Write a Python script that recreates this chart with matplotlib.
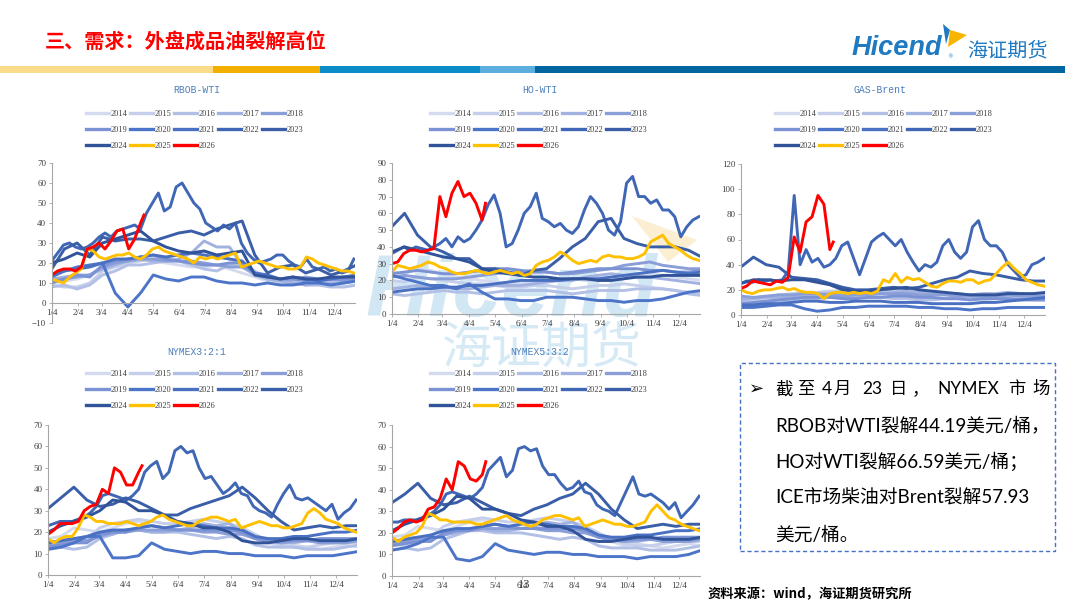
import numpy as np
import matplotlib.pyplot as plt
from matplotlib.lines import Line2D
from matplotlib.patches import Rectangle, Polygon

W, H = 1080, 607

years = list(range(2014, 2027))
year_colors = ['#D5DBEE', '#C5CEEA', '#B3C0E6', '#A2B2E0', '#8A9ED8', '#7B93D4',
               '#4C74C8', '#4A70C2', '#4067B5', '#3A5EA8', '#30539A', '#FFC000', '#FF0000']
month_days = [0, 31, 59, 90, 120, 151, 181, 212, 243, 273, 304, 334]
month_labels = ['1/4', '2/4', '3/4', '4/4', '5/4', '6/4', '7/4', '8/4', '9/4', '10/4', '11/4', '12/4']

# ---- RBOB-WTI ----
rbob_hist = {
    2014: [10, 11, 12, 14, 18, 19, 21, 22, 21, 20, 19, 18, 18, 19, 17, 15, 13, 11, 10, 11, 9, 9, 9, 8, 9],
    2015: [9, 8, 8, 10, 16, 18, 20, 21, 22, 23, 24, 25, 26, 24, 22, 20, 16, 13, 11, 10, 9, 10, 11, 12, 12],
    2016: [8, 9, 7, 9, 14, 16, 19, 19, 20, 21, 21, 19, 17, 16, 19, 18, 14, 12, 11, 11, 9, 9, 8, 8, 9],
    2017: [12, 13, 14, 14, 17, 19, 21, 22, 21, 21, 22, 25, 31, 28, 28, 19, 14, 12, 11, 10, 9, 10, 10, 10, 11],
    2018: [11, 12, 13, 14, 18, 20, 21, 22, 22, 21, 21, 21, 20, 19, 18, 18, 15, 13, 12, 12, 13, 12, 12, 11, 12],
    2019: [10, 12, 14, 13, 19, 21, 22, 23, 24, 22, 21, 20, 19, 19, 20, 20, 15, 13, 12, 12, 11, 12, 12, 12, 12],
    2020: [13, 16, 18, 19, 20, 5, -2, 5, 14, 12, 11, 13, 13, 11, 10, 10, 9, 10, 9, 9, 10, 10, 9, 10, 11],
    2021: [14, 16, 17, 18, 20, 22, 22, 23, 24, 23, 24, 25, 24, 23, 22, 21, 15, 14, 12, 13, 12, 11, 12, 13, 14],
    2023: [17, 27, 30, 24, 33, 31, 32, 32, 31, 33, 35, 36, 34, 37, 39, 41, 24, 15, 18, 19, 15, 17, 14, 16, 19],
    2024: [20, 22, 25, 23, 30, 32, 34, 36, 31, 28, 26, 25, 26, 24, 25, 26, 14, 13, 12, 13, 12, 12, 13, 13, 13],
}
rbob_2022 = [21, 25, 29, 30, 28, 27, 28, 30, 33, 35, 33, 36, 37, 38, 39, 37, 45, 50, 55, 46, 48, 58, 60, 55, 50, 47,
             40, 38, 36, 39, 37, 40, 30, 25, 22, 20, 21, 22, 24, 24, 21, 19, 18, 22, 18, 17, 18, 16, 17, 15, 16, 22]
rbob_2025 = [12, 11, 10, 13, 15, 17, 27, 26, 23, 22, 23, 24, 24, 25, 23, 22, 24, 27, 28, 26, 25, 24, 23, 22, 20, 23,
             22, 23, 22, 23, 24, 25, 18, 19, 20, 21, 20, 19, 18, 18, 17, 17, 18, 23, 22, 20, 19, 18, 17, 16, 16, 15]
rbob_2026 = [14, 16, 17, 17, 16, 18, 27, 28, 30, 27, 31, 36, 37, 27, 32, 40, 44]

# ---- HO-WTI ----
ho_hist = {
    2014: [25, 24, 27, 26, 24, 22, 21, 20, 19, 18, 18, 19, 19, 20, 21, 20, 20, 21, 22, 23, 24, 23, 22, 21, 20],
    2015: [20, 19, 22, 21, 20, 19, 18, 18, 17, 16, 16, 17, 17, 16, 15, 16, 17, 17, 18, 17, 16, 15, 14, 13, 12],
    2016: [12, 11, 12, 13, 14, 13, 13, 12, 13, 14, 14, 14, 14, 13, 12, 13, 14, 14, 14, 15, 15, 15, 14, 12, 11],
    2017: [15, 16, 17, 16, 16, 15, 15, 16, 17, 17, 17, 18, 19, 20, 20, 22, 23, 24, 23, 22, 22, 21, 20, 19, 18],
    2018: [22, 23, 22, 21, 21, 21, 22, 23, 24, 25, 25, 26, 25, 24, 24, 25, 26, 27, 29, 30, 31, 29, 28, 27, 27],
    2019: [24, 25, 26, 25, 24, 24, 25, 26, 27, 27, 26, 25, 25, 24, 25, 26, 27, 27, 27, 27, 26, 26, 25, 25, 26],
    2020: [23, 21, 19, 17, 17, 15, 18, 13, 9, 9, 8, 8, 10, 10, 10, 9, 8, 8, 7, 8, 8, 9, 11, 13, 14],
    2021: [13, 14, 15, 15, 16, 16, 17, 17, 18, 19, 20, 20, 20, 20, 21, 21, 21, 22, 23, 24, 25, 26, 25, 24, 25],
    2023: [52, 60, 47, 40, 37, 33, 33, 27, 27, 25, 23, 26, 27, 33, 40, 45, 55, 57, 45, 42, 40, 40, 40, 38, 34],
    2024: [37, 40, 38, 36, 34, 33, 31, 27, 25, 24, 23, 22, 22, 21, 21, 21, 20, 20, 21, 22, 22, 23, 23, 23, 23],
}
ho_2022 = [36, 38, 40, 38, 40, 39, 38, 40, 42, 45, 40, 46, 43, 45, 50, 56, 65, 71, 60, 40, 42, 50, 60, 64, 72, 57,
           55, 52, 54, 50, 48, 52, 62, 70, 66, 60, 50, 47, 55, 78, 82, 70, 70, 66, 68, 62, 62, 58, 46, 52, 56, 58]
ho_2025 = [25, 29, 28, 27, 28, 29, 31, 30, 28, 27, 25, 24, 24, 25, 26, 25, 24, 25, 26, 25, 24, 25, 23, 24, 29, 31,
           32, 34, 37, 35, 32, 30, 31, 32, 31, 34, 35, 34, 34, 33, 33, 34, 36, 43, 45, 47, 42, 40, 38, 35, 33, 32]
ho_2026 = [30, 31, 36, 38, 38, 37, 38, 39, 70, 58, 72, 79, 70, 72, 66, 56, 66]

# ---- GAS-Brent ----
gas_hist = {
    2014: [12, 11, 13, 14, 15, 16, 16, 15, 14, 15, 15, 16, 16, 15, 15, 14, 13, 13, 12, 12, 13, 13, 12, 12, 12],
    2015: [14, 13, 14, 16, 17, 18, 18, 19, 19, 18, 18, 19, 20, 19, 18, 17, 16, 16, 15, 15, 16, 16, 15, 14, 14],
    2016: [10, 9, 10, 11, 12, 13, 13, 14, 14, 14, 14, 14, 13, 13, 12, 12, 13, 13, 13, 14, 14, 14, 13, 12, 12],
    2017: [12, 13, 14, 14, 15, 16, 16, 17, 16, 17, 17, 17, 18, 19, 18, 18, 17, 17, 16, 17, 17, 18, 17, 16, 16],
    2018: [15, 14, 15, 16, 16, 17, 17, 16, 15, 16, 16, 17, 17, 17, 16, 16, 16, 15, 15, 15, 15, 16, 15, 15, 15],
    2019: [9, 10, 11, 12, 13, 14, 14, 14, 13, 13, 14, 14, 15, 15, 14, 14, 13, 13, 12, 13, 13, 13, 12, 12, 12],
    2020: [6, 6, 7, 8, 8, 5, 3, 4, 6, 6, 7, 7, 7, 7, 6, 6, 5, 5, 4, 5, 5, 6, 6, 6, 6],
    2021: [8, 8, 9, 9, 10, 11, 11, 10, 10, 11, 11, 11, 10, 10, 10, 9, 9, 9, 9, 10, 10, 11, 12, 13, 14],
    2023: [38, 46, 40, 38, 30, 29, 28, 25, 22, 20, 20, 21, 22, 21, 22, 25, 28, 30, 35, 33, 32, 30, 28, 27, 27],
    2024: [25, 28, 28, 27, 28, 28, 26, 24, 20, 19, 19, 20, 21, 22, 20, 19, 18, 17, 16, 16, 16, 17, 17, 17, 18],
}
gas_2022 = [25, 27, 26, 28, 27, 28, 27, 28, 35, 95, 40, 52, 42, 45, 38, 40, 45, 55, 58, 45, 32, 45, 58, 62, 65, 60,
            55, 60, 50, 42, 35, 40, 38, 42, 55, 60, 50, 45, 50, 70, 75, 60, 55, 55, 50, 40, 35, 30, 32, 40, 42, 45]
gas_2025 = [20, 18, 17, 19, 20, 20, 21, 22, 20, 21, 19, 18, 18, 17, 13, 17, 18, 18, 17, 18, 17, 18, 17, 19, 28, 26,
            33, 26, 30, 28, 29, 26, 23, 22, 25, 27, 27, 26, 28, 28, 25, 27, 28, 33, 38, 42, 37, 33, 28, 26, 24, 23]
gas_2026 = [21, 23, 27, 26, 25, 24, 27, 26, 30, 62, 50, 74, 78, 95, 88, 52, 58]

# ---- NYMEX 3:2:1 ----
n321_hist = {
    2014: [17, 18, 22, 21, 20, 22, 24, 25, 23, 22, 21, 21, 22, 23, 21, 19, 17, 15, 13, 14, 13, 12, 13, 14, 13],
    2015: [14, 13, 15, 17, 22, 24, 25, 26, 25, 24, 24, 25, 26, 25, 24, 22, 19, 16, 14, 13, 13, 14, 15, 15, 15],
    2016: [12, 13, 12, 13, 17, 19, 21, 21, 20, 20, 20, 19, 18, 17, 18, 17, 14, 13, 13, 13, 12, 12, 12, 13, 14],
    2017: [15, 16, 17, 16, 18, 19, 21, 21, 20, 20, 21, 22, 24, 23, 24, 20, 17, 16, 15, 15, 16, 16, 15, 16, 17],
    2018: [14, 15, 16, 16, 18, 20, 20, 21, 21, 21, 21, 21, 20, 20, 19, 19, 17, 16, 15, 16, 16, 15, 15, 15, 16],
    2019: [13, 14, 15, 15, 19, 20, 20, 22, 23, 22, 21, 21, 21, 21, 21, 20, 17, 16, 16, 16, 16, 17, 17, 17, 17],
    2020: [12, 13, 15, 18, 18, 8, 8, 9, 15, 12, 11, 10, 11, 11, 10, 10, 9, 9, 9, 8, 9, 9, 9, 10, 11],
    2021: [15, 16, 17, 18, 20, 21, 21, 22, 23, 22, 23, 24, 23, 22, 22, 21, 18, 17, 17, 18, 18, 19, 20, 20, 21],
    2023: [31, 36, 41, 35, 32, 33, 36, 34, 31, 28, 28, 31, 33, 35, 37, 41, 36, 30, 25, 21, 22, 23, 22, 23, 23],
    2024: [20, 23, 25, 27, 30, 35, 34, 30, 30, 28, 25, 24, 22, 22, 20, 16, 15, 15, 16, 17, 17, 16, 16, 16, 17],
}
n321_2022 = [23, 24, 25, 25, 25, 26, 27, 29, 32, 37, 38, 37, 36, 35, 37, 40, 48, 51, 53, 45, 48, 58, 60, 57, 58, 50,
             45, 46, 42, 38, 40, 43, 38, 37, 32, 30, 29, 27, 33, 38, 42, 36, 35, 36, 34, 32, 30, 33, 26, 29, 31, 35]
n321_2025 = [17, 15, 17, 18, 18, 22, 28, 27, 25, 25, 24, 24, 24, 25, 24, 23, 24, 25, 27, 28, 26, 25, 24, 23, 23, 25,
             26, 27, 27, 26, 25, 26, 22, 23, 24, 25, 24, 23, 23, 22, 22, 23, 24, 29, 31, 29, 26, 25, 24, 22, 21, 20]
n321_2026 = [19, 21, 24, 24, 24, 25, 30, 32, 33, 40, 38, 50, 48, 42, 42, 48, 51]

# ---- NYMEX 5:3:2 ----
n532_hist = {
    2014: [18, 19, 23, 22, 21, 23, 25, 26, 24, 23, 22, 22, 23, 24, 22, 20, 18, 16, 14, 15, 14, 13, 14, 15, 14],
    2015: [15, 14, 16, 18, 23, 25, 26, 27, 26, 25, 25, 26, 27, 26, 25, 23, 20, 17, 15, 14, 14, 15, 16, 16, 16],
    2016: [12, 13, 12, 13, 17, 19, 21, 21, 20, 20, 20, 19, 18, 17, 18, 17, 14, 13, 13, 13, 12, 12, 12, 13, 14],
    2017: [16, 17, 18, 17, 19, 20, 22, 22, 21, 21, 22, 23, 25, 24, 25, 21, 18, 17, 16, 16, 17, 17, 16, 17, 18],
    2018: [15, 16, 17, 17, 19, 21, 21, 22, 22, 22, 22, 22, 21, 21, 20, 20, 18, 17, 16, 17, 17, 16, 16, 16, 17],
    2019: [14, 15, 16, 16, 20, 21, 21, 23, 24, 23, 22, 22, 22, 22, 22, 21, 18, 17, 17, 17, 17, 18, 18, 18, 18],
    2020: [12, 13, 15, 18, 18, 8, 7, 9, 15, 12, 11, 10, 11, 11, 10, 10, 9, 9, 9, 8, 9, 9, 9, 10, 12],
    2021: [16, 17, 18, 19, 21, 22, 22, 23, 24, 23, 24, 25, 24, 23, 23, 22, 19, 18, 18, 19, 19, 20, 21, 21, 22],
    2023: [34, 38, 43, 36, 33, 34, 37, 34, 31, 29, 28, 31, 33, 36, 38, 43, 38, 31, 26, 22, 23, 24, 23, 24, 24],
    2024: [21, 24, 26, 28, 31, 37, 36, 31, 31, 29, 26, 25, 23, 23, 21, 17, 16, 16, 17, 18, 18, 17, 17, 17, 18],
}
n532_2022 = [25, 25, 26, 26, 26, 27, 28, 30, 33, 38, 39, 38, 37, 36, 38, 41, 49, 52, 55, 46, 49, 59, 60, 58, 59, 51,
             47, 47, 43, 40, 41, 44, 39, 38, 33, 31, 30, 28, 34, 40, 46, 38, 37, 38, 36, 34, 31, 34, 27, 30, 33, 37]
n532_2025 = [18, 16, 18, 19, 20, 23, 29, 28, 26, 26, 25, 25, 25, 25, 24, 24, 25, 26, 27, 28, 26, 25, 24, 23, 24, 26,
             27, 28, 28, 27, 26, 27, 23, 24, 25, 26, 25, 24, 24, 23, 23, 24, 25, 30, 33, 30, 27, 26, 24, 23, 22, 21]
n532_2026 = [20, 22, 25, 26, 25, 26, 31, 32, 36, 45, 40, 53, 51, 45, 44, 47, 53]

# days for the 2026 series; last point is 4/23
days_2026 = list(range(0, 106, 7)) + [109]


def fx(px):
    return px / W


def fy(py):
    return 1 - py / H


def draw_panel(rect, title, title_xy, legend_xy, hist, y22, y25, y26, ylim, yticks):
    ax = fig.add_axes(rect)
    ax.patch.set_alpha(0)
    for i, yr in enumerate(years):
        if yr == 2022:
            vals, step = y22, 7
        elif yr == 2025:
            vals, step = y25, 7
        elif yr == 2026:
            vals, step = y26, None
        else:
            vals, step = hist[yr], 15
        x = days_2026 if step is None else np.arange(len(vals)) * step
        ax.plot(x, vals, color=year_colors[i], lw=2.1, solid_joinstyle='round', label=str(yr))
    ax.set_xlim(0, 358)
    ax.set_ylim(*ylim)
    ax.set_yticks(yticks)
    ax.set_xticks(month_days)
    ax.set_xticklabels(month_labels)
    for s in ['top', 'right']:
        ax.spines[s].set_visible(False)
    for s in ['left', 'bottom']:
        ax.spines[s].set_color('#A6A6A6')
        ax.spines[s].set_linewidth(0.8)
    if ylim[0] < 0:
        ax.spines['bottom'].set_position(('data', 0))
    ax.tick_params(length=2, width=0.6, color='#A6A6A6', labelsize=6.5, labelcolor='#404040', pad=2)
    for lab in ax.get_xticklabels() + ax.get_yticklabels():
        lab.set_fontfamily('Liberation Serif')

    fig.text(fx(title_xy[0]), fy(title_xy[1]), title, ha='center', va='center',
             fontsize=7, color='#4A7EBB', family='Liberation Mono')
    handles = [Line2D([], [], color=c, lw=2.4) for c in year_colors]
    order = [0, 5, 10, 1, 6, 11, 2, 7, 12, 3, 8, 4, 9]
    leg = fig.legend([handles[k] for k in order], [str(years[k]) for k in order],
                     ncol=5, loc='upper left', bbox_to_anchor=(fx(legend_xy[0]), fy(legend_xy[1])),
                     frameon=False, fontsize=6, handlelength=2.8, handletextpad=0.15,
                     columnspacing=0.3, labelspacing=0.95, borderpad=0, borderaxespad=0)
    for t in leg.get_texts():
        t.set_fontfamily('Liberation Serif')
        t.set_color('#404040')
    return ax


fig = plt.figure(figsize=(10.8, 6.07), dpi=100)

# watermark
fig.text(fx(365), fy(316), 'Hicend', ha='left', va='baseline', fontsize=63, fontweight='bold',
         fontstyle='italic', family='Liberation Sans', color='#D2E7F4', zorder=-5)
fig.text(fx(542), fy(349), '海证期货', ha='center', va='center', fontsize=36,
         family='Noto Sans CJK SC', color='#D6EAF6', zorder=-5)
fig.patches.append(Polygon([[fx(632), fy(216)], [fx(697), fy(240)], [fx(668), fy(262)]],
                           closed=True, transform=fig.transFigure, facecolor='#FCEED0',
                           edgecolor='none', zorder=-6))

# header
fig.text(fx(45), fy(42), '三、需求：外盘成品油裂解高位', ha='left', va='center', fontsize=14.5,
         fontweight='bold', color='#FF0000', family='Noto Sans CJK SC')
bar = [(0, 213, '#FADB8A'), (213, 320, '#F2AF00'), (320, 480, '#0B8CC6'),
       (480, 535, '#5BAEDD'), (535, 1065, '#0066A1')]
for x0, x1, c in bar:
    fig.patches.append(Rectangle((fx(x0), fy(72.5)), (x1 - x0) / W, 6.5 / H,
                                 transform=fig.transFigure, facecolor=c, edgecolor='none'))
fig.text(fx(852), fy(48), 'Hicend', ha='left', va='center', fontsize=19.5, fontweight='bold',
         fontstyle='italic', family='Liberation Sans', color='#1F7AC2')
fig.text(fx(950), fy(57), '®', ha='center', va='center', fontsize=4, color='#1F7AC2')
fig.text(fx(1007), fy(51), '海证期货', ha='center', va='center', fontsize=14.5,
         family='Noto Sans CJK SC', color='#1F7AC2')
fig.patches.append(Polygon([[fx(943), fy(24)], [fx(950), fy(30)], [fx(946), fy(44)]], closed=True,
                           transform=fig.transFigure, facecolor='#1F7AC2', edgecolor='none'))
fig.patches.append(Polygon([[fx(950), fy(30)], [fx(967), fy(35)], [fx(948), fy(47)]], closed=True,
                           transform=fig.transFigure, facecolor='#F7B500', edgecolor='none'))

# panels
draw_panel([fx(51.7), fy(323), 303 / W, 160 / H], 'RBOB-WTI', (197, 90), (86, 110),
           rbob_hist, rbob_2022, rbob_2025, rbob_2026, (-10, 70), range(-10, 71, 10))
draw_panel([fx(391.7), fy(314), 308 / W, 151 / H], 'HO-WTI', (540, 90), (430, 110),
           ho_hist, ho_2022, ho_2025, ho_2026, (0, 90), range(0, 91, 10))
draw_panel([fx(740.7), fy(315), 304 / W, 151 / H], 'GAS-Brent', (880, 90), (775, 110),
           gas_hist, gas_2022, gas_2025, gas_2026, (0, 120), range(0, 121, 20))
draw_panel([fx(48), fy(575), 309 / W, 150 / H], 'NYMEX3:2:1', (197, 352), (86, 370),
           n321_hist, n321_2022, n321_2025, n321_2026, (0, 70), range(0, 71, 10))
draw_panel([fx(392), fy(576), 308 / W, 151 / H], 'NYMEX5:3:2', (540, 352), (430, 370),
           n532_hist, n532_2022, n532_2025, n532_2026, (0, 70), range(0, 71, 10))

# text box
fig.patches.append(Rectangle((fx(740), fy(551)), 315 / W, 188 / H, transform=fig.transFigure,
                             facecolor='none', edgecolor='#4472C4', lw=1.0, linestyle=(0, (3, 2))))
cjk = ['Lato', 'Noto Sans CJK SC']
fig.text(fx(749), fy(389), '➢', ha='left', va='center', fontsize=13, family='DejaVu Sans', color='#000000')
line1 = [('截', 775), ('至', 797), ('4', 822), ('月', 833), ('23', 862), ('日', 890),
         ('，', 912), ('NYMEX', 937), ('市', 1008), ('场', 1032)]
for tok, px in line1:
    fig.text(fx(px), fy(389), tok, ha='left', va='center', fontsize=12.5, family=cjk, color='#000000')
body = ['RBOB对WTI裂解44.19美元/桶，', 'HO对WTI裂解66.59美元/桶；',
        'ICE市场柴油对Brent裂解57.93', '美元/桶。']
for k, s in enumerate(body):
    fig.text(fx(775), fy(425 + 36.5 * k), s, ha='left', va='center', fontsize=13.5,
             family=cjk, color='#000000')

fig.text(fx(708), fy(594), '资料来源：wind，海证期货研究所', ha='left', va='center', fontsize=9.5,
         fontweight='bold', family=['Noto Sans CJK SC'], color='#000000')
fig.text(fx(524), fy(585), '13', ha='center', va='center', fontsize=9, family='Liberation Serif',
         color='#404040')

fig.savefig('out.png', dpi=100)
